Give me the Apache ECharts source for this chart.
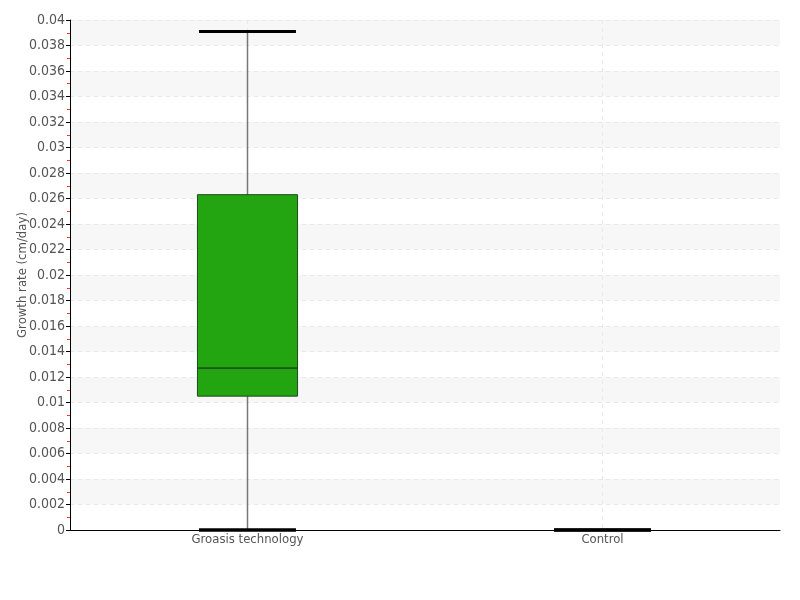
<!DOCTYPE html>
<html><head><meta charset="utf-8">
<script src="https://cdn.jsdelivr.net/npm/echarts@6/dist/echarts.min.js"></script>
<style>html,body{margin:0;padding:0;background:#fff}#c{width:800px;height:600px}</style>
</head><body><div id="c"></div>
<script>
const categories = ['Groasis technology', 'Control'];
const mins    = [0, 0];
const q1s     = [0.0105, 0];
const medians = [0.0127, 0];
const q3s     = [0.0263, 0];
const maxs    = [0.0391, 0];
const yTicks  = {min: 0, max: 0.04, interval: 0.002};

const data = categories.map((c, i) => [i, mins[i], q1s[i], medians[i], q3s[i], maxs[i]]);
const FONT = '"DejaVu Sans Condensed", "Liberation Sans Narrow", sans-serif';

const chart = echarts.init(document.getElementById('c'));
chart.setOption({
  animation: false,
  grid: {left: 70, right: 20, top: 20, bottom: 70, outerBoundsMode: 'none', containLabel: false},
  xAxis: {
    type: 'category', data: categories,
    axisLine: {lineStyle: {color: '#000', width: 1}},
    axisTick: {show: false, alignWithLabel: true},
    axisLabel: {color: '#555', fontFamily: FONT, fontSize: 13, margin: 3},
    splitLine: {show: true, alignWithLabel: true, lineStyle: {color: '#e8e8e8', type: [4, 4], width: 1}}
  },
  yAxis: {
    type: 'value', min: yTicks.min, max: yTicks.max, interval: yTicks.interval,
    name: 'Growth rate (cm/day)', nameLocation: 'middle', nameGap: 41, nameMoveOverlap: false,
    nameTextStyle: {color: '#555', fontFamily: FONT, fontSize: 13},
    axisLine: {show: true, lineStyle: {color: '#000', width: 1}},
    axisTick: {show: true, length: 4, lineStyle: {color: '#000'}},
    minorTick: {show: true, splitNumber: 2, length: 3, lineStyle: {color: '#ff3333'}},
    axisLabel: {color: '#555', fontFamily: FONT, fontSize: 14, margin: 5,
      formatter: v => String(+v.toFixed(4))},
    splitLine: {show: true, lineStyle: {color: '#e8e8e8', type: [4, 4], width: 1}},
    splitArea: {show: true, areaStyle: {color: ['rgba(0,0,0,0)', '#f7f7f7']}}
  },
  series: [{
    type: 'custom',
    data: data,
    encode: {x: 0, y: [1, 2, 3, 4, 5]},
    renderItem: function (params, api) {
      const x = api.value(0);
      const pMin = api.coord([x, api.value(1)]);
      const pQ1 = api.coord([x, api.value(2)]);
      const pMed = api.coord([x, api.value(3)]);
      const pQ3 = api.coord([x, api.value(4)]);
      const pMax = api.coord([x, api.value(5)]);
      const band = api.size([1, 0])[0];
      const bw = band * 0.282;
      const cw = band * 0.273;
      const cx = pMin[0];
      const children = [];
      children.push({type: 'line', shape: {x1: cx, y1: pMax[1], x2: cx, y2: pMin[1]},
        style: {stroke: '#777', lineWidth: 1.5}});
      if (pQ1[1] - pQ3[1] > 0.5) {
        children.push({type: 'rect', shape: {x: cx - bw / 2, y: pQ3[1], width: bw, height: pQ1[1] - pQ3[1]},
          style: {fill: '#22a511', stroke: '#1f4a1a', lineWidth: 1}});
        children.push({type: 'line', shape: {x1: cx - bw / 2, y1: pMed[1], x2: cx + bw / 2, y2: pMed[1]},
          style: {stroke: '#1a1a1a', lineWidth: 1}});
      }
      children.push({type: 'line', shape: {x1: cx - cw / 2, y1: pMax[1], x2: cx + cw / 2, y2: pMax[1]},
        style: {stroke: '#000', lineWidth: 3}});
      children.push({type: 'line', shape: {x1: cx - cw / 2, y1: pMin[1], x2: cx + cw / 2, y2: pMin[1]},
        style: {stroke: '#000', lineWidth: 3.5}});
      return {type: 'group', children: children};
    }
  }]
});
</script>
</body></html>
